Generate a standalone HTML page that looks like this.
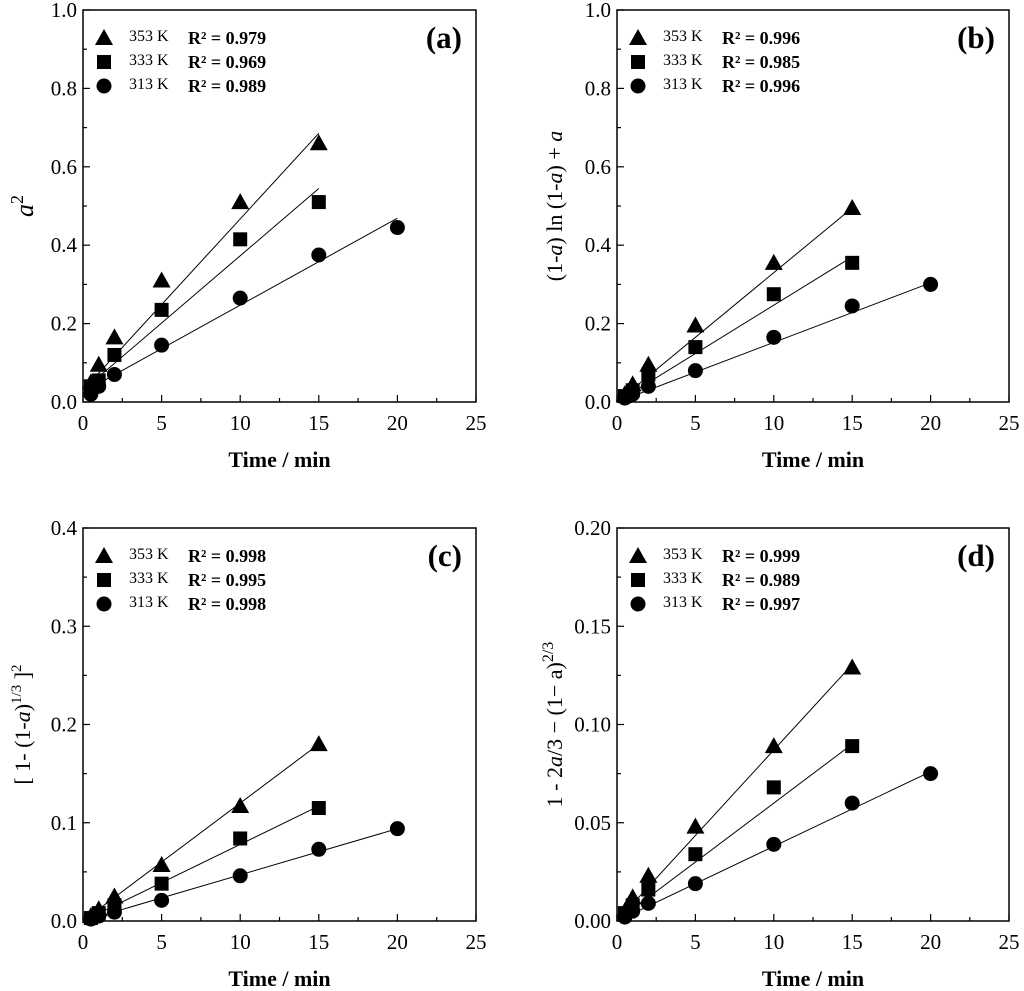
<!DOCTYPE html>
<html><head><meta charset="utf-8"><style>
body{margin:0;background:#fff}
svg{display:block;font-family:"Liberation Serif",serif}
</style></head><body>
<svg id="c" width="1024" height="991" viewBox="0 0 1024 991"></svg>
<script>
const times=[0.5,1,2,5,10,15];
const times313=[0.5,1,2,5,10,15,20];
const seriesNames=["353 K","333 K","313 K"];
const a353=[0.05,0.095,0.165,0.31,0.51,0.66];
const a333=[0.04,0.055,0.12,0.235,0.415,0.51];
const a313=[0.02,0.04,0.07,0.145,0.265,0.375,0.445];
const b353=[0.02,0.045,0.095,0.195,0.355,0.495];
const b333=[0.015,0.03,0.07,0.14,0.275,0.355];
const b313=[0.01,0.02,0.04,0.08,0.165,0.245,0.30];
const c353=[0.005,0.012,0.025,0.057,0.117,0.18];
const c333=[0.003,0.008,0.016,0.038,0.084,0.115];
const c313=[0.002,0.005,0.009,0.021,0.046,0.073,0.094];
const d353=[0.005,0.012,0.023,0.048,0.089,0.129];
const d333=[0.004,0.008,0.016,0.034,0.068,0.089];
const d313=[0.002,0.005,0.009,0.019,0.039,0.060,0.075];
const aSlope=[0.0437,0.0343,0.0222], aInt=[0.03,0.03,0.025];
const bSlope=[0.033,0.0247,0.0152], bInt=[0,0,0];
const cSlope=[0.012,0.0078,0.0047], cInt=[0,0,0];
const dSlope=[0.0087,0.006,0.0038], dInt=[0,0,0];
const xTicks=[0,5,10,15,20,25];
const aR2=["0.979","0.969","0.989"], bR2=["0.996","0.985","0.996"], cR2=["0.998","0.995","0.998"], dR2=["0.999","0.989","0.997"];
const aYT=["0.0","0.2","0.4","0.6","0.8","1.0"];
const cYT=["0.0","0.1","0.2","0.3","0.4"];
const dYT=["0.00","0.05","0.10","0.15","0.20"];

const NS="http://www.w3.org/2000/svg";
const svg=document.getElementById('c');
function mk(t,at,p){const e=document.createElementNS(NS,t);for(const k in at)e.setAttribute(k,at[k]);(p||svg).appendChild(e);return e;}
function marker(g,kind,x,y){
  let e;
  if(kind===0){e=mk('polygon',{points:`${x},${y-9} ${x-9},${y+7} ${x+9},${y+7}`,fill:'#000'},g);}
  else if(kind===1){e=mk('rect',{x:x-7,y:y-7,width:14,height:14,fill:'#000'},g);}
  else{e=mk('circle',{cx:x,cy:y,r:7.5,fill:'#000'},g);}
  return e;
}
function panel(o){
  const g=mk('g',{});
  
  
  const X=v=>o.x0+(v/25)*(o.x1-o.x0);
  const Y=v=>o.y1-(v/o.ymax)*(o.y1-o.y0);
  const box=mk('rect',{x:o.x0,y:o.y0,width:o.x1-o.x0,height:o.y1-o.y0,fill:'none',stroke:'#000','stroke-width':1.5},g);
  
  for(let i=0;i<xTicks.length;i++){
    const x=X(xTicks[i]);
    mk('line',{x1:x,y1:o.y1,x2:x,y2:o.y1-7,stroke:'#000','stroke-width':1.2},g);
    if(i<xTicks.length-1){const xm=X(xTicks[i]+2.5);mk('line',{x1:xm,y1:o.y1,x2:xm,y2:o.y1-4,stroke:'#000','stroke-width':1.2},g);}
    const t=mk('text',{x:x,y:o.y1+28,'text-anchor':'middle','font-size':21},g);t.textContent=xTicks[i];
    
  }
  const n=o.yt.length;
  for(let i=0;i<n;i++){
    const v=o.ymax*i/(n-1), y=Y(v);
    mk('line',{x1:o.x0,y1:y,x2:o.x0+7,y2:y,stroke:'#000','stroke-width':1.2},g);
    if(i<n-1){const ym=Y(v+o.ymax/(n-1)/2);mk('line',{x1:o.x0,y1:ym,x2:o.x0+4,y2:ym,stroke:'#000','stroke-width':1.2},g);}
    const t=mk('text',{x:o.x0-6,y:y+7,'text-anchor':'end','font-size':21},g);t.textContent=o.yt[i];
    
  }
  const xt=mk('text',{x:(o.x0+o.x1)/2,y:o.y1+65,'text-anchor':'middle','font-size':22,'font-weight':'bold'},g);
  xt.textContent='Time / min';
  const yt=mk('text',{x:0,y:0,'text-anchor':'middle','font-size':o.yfs,transform:`translate(${o.ylx},${(o.y0+o.y1)/2}) rotate(-90)`},g);
  yt.innerHTML=o.ylab;
  const pl=mk('text',{x:o.x1-14,y:o.y0+38,'text-anchor':'end','font-size':31,'font-weight':'bold'},g);
  pl.textContent='('+o.id+')';
  const data=[o.s353,o.s333,o.s313];
  for(let s=0;s<3;s++){
    const ts=s===2?times313:times;
    const tEnd=ts[ts.length-1];
    const ln=mk('line',{x1:X(0.2),y1:Y(o.int[s]+o.slope[s]*0.2),x2:X(tEnd),y2:Y(o.int[s]+o.slope[s]*tEnd),stroke:'#000','stroke-width':1},g);
    
    for(let i=0;i<ts.length;i++){
      const m=marker(g,s,X(ts[i]),Y(data[s][i]));
      
      
    }
    const ly=o.y0+28+s*24;
    const lm=marker(g,s,o.x0+21,ly);
    
    const lt=mk('text',{x:o.x0+46,y:ly+3,'font-size':16},g);lt.textContent=seriesNames[s];
    
    const rt=mk('text',{x:o.x0+105,y:ly+6,'font-size':18,'font-weight':'bold'},g);rt.textContent='R² = '+o.r2[s];
    
  }
}
panel({id:'a',x0:83,x1:476,y0:10,y1:402,ymax:1.0,yt:aYT,s353:a353,s333:a333,s313:a313,slope:aSlope,int:aInt,r2:aR2,ylx:33,yfs:26,
  ylab:'<tspan font-style="italic">a</tspan><tspan dy="-10" font-size="18">2</tspan>'});
panel({id:'b',x0:617,x1:1009,y0:10,y1:402,ymax:1.0,yt:aYT,s353:b353,s333:b333,s313:b313,slope:bSlope,int:bInt,r2:bR2,ylx:562,yfs:22,
  ylab:'(1-<tspan font-style="italic">a</tspan>) ln (1-<tspan font-style="italic">a</tspan>) + <tspan font-style="italic">a</tspan>'});
panel({id:'c',x0:83,x1:476,y0:528,y1:921,ymax:0.4,yt:cYT,s353:c353,s333:c333,s313:c313,slope:cSlope,int:cInt,r2:cR2,ylx:30,yfs:22,
  ylab:'[ 1- (1-<tspan font-style="italic">a</tspan>)<tspan dy="-9" font-size="15">1/3</tspan><tspan dy="9"> ]</tspan><tspan dy="-9" font-size="15">2</tspan>'});
panel({id:'d',x0:617,x1:1009,y0:528,y1:921,ymax:0.2,yt:dYT,s353:d353,s333:d333,s313:d313,slope:dSlope,int:dInt,r2:dR2,ylx:562,yfs:22,
  ylab:'1 - 2<tspan font-style="italic">a</tspan>/3 − (1− a)<tspan dy="-9" font-size="16">2/3</tspan>'});
</script>
</body></html>
